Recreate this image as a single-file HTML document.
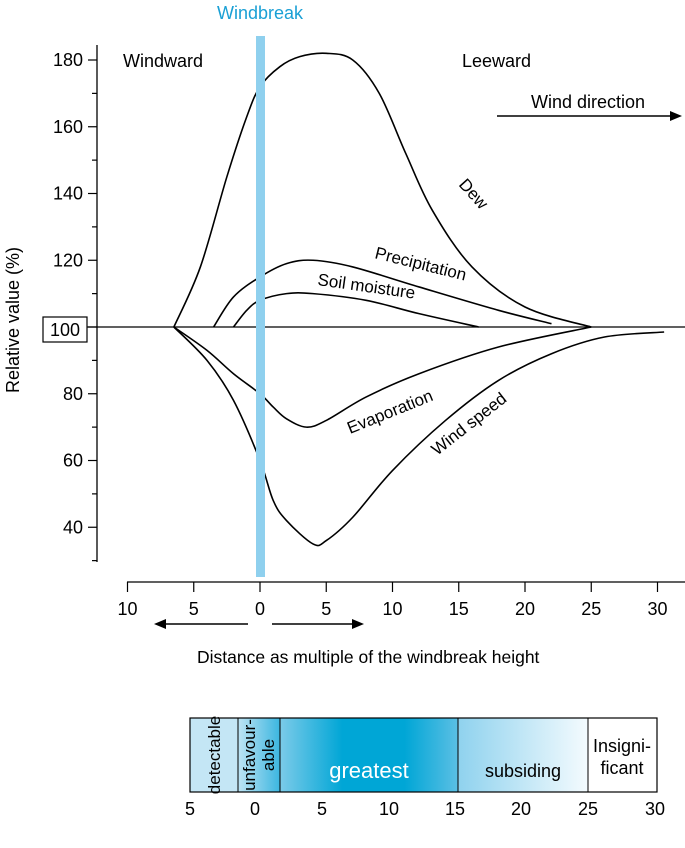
<!DOCTYPE html>
<html><head><meta charset="utf-8"><style>
body{margin:0;background:#fff;}
svg{display:block;font-family:"Liberation Sans",Arial,sans-serif;}
</style></head><body>
<svg width="685" height="848" viewBox="0 0 685 848">
<defs>
<linearGradient id="gUnf" x1="0" x2="1"><stop offset="0" stop-color="#bfe4f4"/><stop offset="1" stop-color="#3bb6e0"/></linearGradient>
<linearGradient id="gGreat" x1="0" x2="1"><stop offset="0" stop-color="#7ccbe9"/><stop offset="0.35" stop-color="#00a6d6"/><stop offset="0.7" stop-color="#00a6d6"/><stop offset="1" stop-color="#5bbfe4"/></linearGradient>
<linearGradient id="gSub" x1="0" x2="1"><stop offset="0" stop-color="#8fd2ee"/><stop offset="1" stop-color="#f4fbfe"/></linearGradient>
</defs>
<g id="plot"></g>
<text x="260" y="19" text-anchor="middle" font-size="18" fill="#1aa0d5">Windbreak</text>
<text x="123" y="67" font-size="18">Windward</text>
<text x="462" y="67" font-size="18">Leeward</text>
<text x="531" y="108" font-size="18">Wind direction</text>
<g><line x1="497" y1="116" x2="676" y2="116" stroke="#000" stroke-width="1.5"/><path d="M682 116 L670 111 L670 121 Z"/></g>
<text transform="translate(19,320) rotate(-90)" text-anchor="middle" font-size="18">Relative value (%)</text>
<rect x="43" y="317" width="44" height="25" fill="none" stroke="#000" stroke-width="1.2"/>
<text x="197" y="663" font-size="17.5">Distance as multiple of the windbreak height</text>
<g><line x1="160" y1="624" x2="248" y2="624" stroke="#000" stroke-width="1.5"/><path d="M154 624 L166 619 L166 629 Z"/></g>
<g><line x1="272" y1="624" x2="358" y2="624" stroke="#000" stroke-width="1.5"/><path d="M364 624 L352 619 L352 629 Z"/></g>
<g>
<rect x="190" y="718" width="48" height="74" fill="#c4e6f5"/>
<rect x="238" y="718" width="42" height="74" fill="url(#gUnf)"/>
<rect x="280" y="718" width="178" height="74" fill="url(#gGreat)"/>
<rect x="458" y="718" width="130" height="74" fill="url(#gSub)"/>
<rect x="588" y="718" width="69" height="74" fill="#fff"/>
<rect x="190" y="718" width="467" height="74" fill="none" stroke="#000" stroke-width="1.2"/>
<line x1="238" y1="718" x2="238" y2="792" stroke="#000"/><line x1="280" y1="718" x2="280" y2="792" stroke="#000"/>
<line x1="458" y1="718" x2="458" y2="792" stroke="#000"/><line x1="588" y1="718" x2="588" y2="792" stroke="#000"/>
<text transform="translate(220,755) rotate(-90)" text-anchor="middle" font-size="17">detectable</text>
<text transform="translate(255,755) rotate(-90)" text-anchor="middle" font-size="17">unfavour-</text>
<text transform="translate(274,755) rotate(-90)" text-anchor="middle" font-size="17">able</text>
<text x="369" y="778" text-anchor="middle" font-size="22" fill="#fff">greatest</text>
<text x="523" y="777" text-anchor="middle" font-size="18">subsiding</text>
<text x="622" y="752" text-anchor="middle" font-size="18">Insigni-</text>
<text x="622" y="774" text-anchor="middle" font-size="18">ficant</text>
</g>
<g id="zoneTicks"></g>
</svg>
<script>
const yTicks=[40,60,80,100,120,140,160,180];
const xTickVals=[-10,-5,0,5,10,15,20,25,30];
const xTickLabels=["10","5","0","5","10","15","20","25","30"];
const zoneTickLabels=["5","0","5","10","15","20","25","30"];
const dewX=[-6.5,-4.5,-2.5,-1,0,1.5,3,5,7,9,11,13,16,20,25];
const dewY=[100,118,145,163,172,178,181,182,180,170,152,135,118,106,100];
const precX=[-3.5,-2,0,2,4,7,12,18,22];
const precY=[100,109,115,119,120,118,112,105,101];
const soilX=[-2,-1,0,2,4,8,12,16.5];
const soilY=[100,105,108,110,110,108,104,100];
const evapX=[-6.5,-4,-2,0,1,2,3.5,5,8,12,18,25];
const evapY=[100,93,86,80,76,72.5,70,72,79,86,94,100];
const windX=[-6.5,-4,-2,0,1,2,4,5,7,10,14,18,22,26,30.5];
const windY=[100,90,78,60,48,42,35,36,43,57,72,84,92,97,98.5];
const NS="http://www.w3.org/2000/svg";
const sx=d=>260+d*13.25;
const sy=v=>327-(v-100)*3.3375;
const plot=document.getElementById('plot');
function mk(t,a,parent){const e=document.createElementNS(NS,t);for(const k in a)e.setAttribute(k,a[k]);(parent||plot).appendChild(e);return e;}
const ya=mk('line',{x1:97,y1:45,x2:97,y2:562,stroke:'#000','stroke-width':1.3});


for(let v=30;v<=190;v+=10){const y=sy(v);if(y<45||y>562)continue;const major=v%20===0;
 mk('line',{x1:97,y1:y,x2:major?88:92,y2:y,stroke:'#000','stroke-width':1.2});}
yTicks.forEach(v=>{if(v===100)return;const t=mk('text',{x:83,y:sy(v)+6,'text-anchor':'end','font-size':18});t.textContent=v;
 
 });
const t100=mk('text',{x:65,y:336,'text-anchor':'middle','font-size':18});t100.textContent='100';


const xa=mk('line',{x1:127,y1:582,x2:685,y2:582,stroke:'#000','stroke-width':1.3});


xTickVals.forEach((d,i)=>{const x=sx(d);mk('line',{x1:x,y1:582,x2:x,y2:592,stroke:'#000','stroke-width':1.2});
 const t=mk('text',{x:x,y:615,'text-anchor':'middle','font-size':18});t.textContent=xTickLabels[i];
 
 });
const bl=mk('line',{x1:87,y1:sy(100),x2:685,y2:sy(100),stroke:'#000','stroke-width':1.3});


function curve(xs,ys,name){const p=xs.map((d,i)=>[sx(d),sy(ys[i])]);let s='M'+p[0][0]+' '+p[0][1];
 for(let i=0;i<p.length-1;i++){const p0=p[i-1]||p[i],p1=p[i],p2=p[i+1],p3=p[i+2]||p[i+1];
  s+=` C${p1[0]+(p2[0]-p0[0])/6} ${p1[1]+(p2[1]-p0[1])/6} ${p2[0]-(p3[0]-p1[0])/6} ${p2[1]-(p3[1]-p1[1])/6} ${p2[0]} ${p2[1]}`;}
 const e=mk('path',{d:s,fill:'none',stroke:'#000','stroke-width':1.6});
 
 }
curve(dewX,dewY,'dew-curve');curve(precX,precY,'precipitation-curve');curve(soilX,soilY,'soil-moisture-curve');
curve(evapX,evapY,'evaporation-curve');curve(windX,windY,'wind-speed-curve');
function lab(txt,x,y,rot,name){const t=mk('text',{x:x,y:y,'font-size':17,transform:`rotate(${rot} ${x} ${y})`});t.textContent=txt;
 
 }
lab('Dew',458,185,48,'dew-label');lab('Precipitation',374,258,14,'precipitation-label');
lab('Soil moisture',317,285,8,'soil-moisture-label');lab('Evaporation',350,434,-22,'evaporation-label');
lab('Wind speed',437,456,-38,'wind-speed-label');
const wb=mk('rect',{x:256,y:36,width:9,height:541,fill:'#8fd0ee'});


const zt=document.getElementById('zoneTicks');
const zx=[190,255,322,389,455,521,588,655];
zoneTickLabels.forEach((l,i)=>{const t=mk('text',{x:zx[i],y:815,'text-anchor':'middle','font-size':18},zt);t.textContent=l;
 
 });
</script>
</body></html>
